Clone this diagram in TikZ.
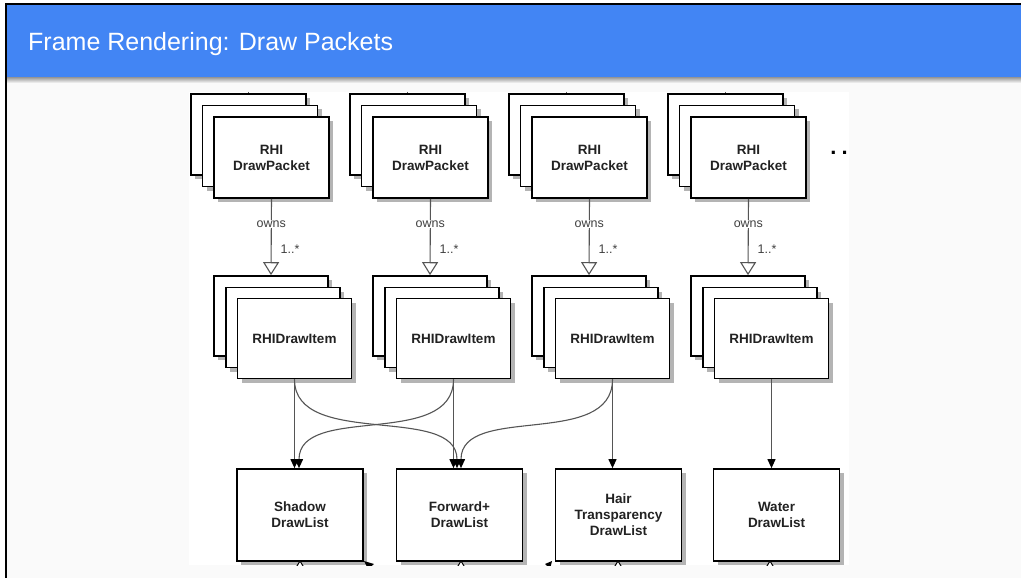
\documentclass[tikz,border=0pt]{standalone}
\usepackage{fontspec}
\setmainfont{Liberation Sans}
\usetikzlibrary{arrows.meta,calc}
\definecolor{hdrblue}{HTML}{4285F4}
\definecolor{slidebg}{HTML}{FAFAFA}
\definecolor{conn}{HTML}{555555}
\definecolor{txt}{HTML}{222222}
\definecolor{shadowc}{HTML}{B4B4B4}
\tikzset{
  stackbox/.style={draw=black,line width=1.7pt,fill=white,
    preaction={fill=shadowc,draw=none,transform canvas={xshift=4pt,yshift=-4pt}},
    minimum width=115pt,minimum height=81pt,inner sep=0pt,text=txt,align=center,
    font=\bfseries\fontsize{13.5}{16}\selectfont},
  itembox/.style={stackbox,minimum width=114pt,minimum height=80pt},
  listbox/.style={stackbox,minimum width=126pt,minimum height=92pt},
  own/.style={draw=conn,line width=1.1pt,-{Triangle[open,length=13pt,width=16pt,fill=white]}},
  flow/.style={draw=conn,line width=1.1pt,-{Triangle[length=9pt,width=8pt,color=black]}},
  lbl/.style={text=black!75,font=\fontsize{12.5}{14}\selectfont,inner sep=1pt},
}
\begin{document}
\begin{tikzpicture}[x=1pt,y=-1pt]
\useasboundingbox (0,0) rectangle (1021,578);
\fill[white] (0,0) rectangle (1021,578);
\fill[slidebg] (6,4) rectangle (1021,578);
\fill[hdrblue] (6,4) rectangle (1021,78);
\shade[top color=black!35,bottom color=slidebg] (6,78) rectangle (1021,83);
\draw[line width=2pt,black] (6,578) -- (6,4) -- (1021,4);
\node[anchor=base west,text=white,inner sep=0pt,font=\fontsize{25}{30}\selectfont] (title) at (28,51) {Frame Rendering: Draw Packets};

\fill[white] (189,92) rectangle (849,565);

\foreach \i in {1,2,3,4}{
  \pgfmathsetmacro\dx{159*(\i-1)}
  \coordinate (top\i) at ({248.5+\dx},92);
  \node[stackbox] (p\i c) at ({248.5+\dx},134.5) {};
  \node[stackbox] (p\i b) at ({260+\dx},146) {};
  \node[stackbox] (p\i a) at ({271.5+\dx},157.5) {RHI\\DrawPacket};
  \draw[conn,line width=1.1pt] (top\i) -- (p\i c.north);
  \node[itembox] (i\i c) at ({271+\dx},316) {};
  \node[itembox] (i\i b) at ({283+\dx},327.5) {};
  \node[itembox] (i\i a) at ({294.5+\dx},338.5) {RHIDrawItem};
  \draw[own] (p\i a.south) -- node[pos=0.33,lbl,fill=white] {owns}
     node[pos=0.655,lbl,anchor=west,xshift=8pt] {1..*} (i\i c.north);
}

\node[listbox] (l1) at (300,515) {Shadow\\DrawList};
\node[listbox] (l2) at (459.5,515) {Forward+\\DrawList};
\node[listbox] (l3) at (618.5,515) {Hair\\Transparency\\DrawList};
\node[listbox] (l4) at (776.5,515) {Water\\DrawList};

\node[font=\bfseries\fontsize{22}{22}\selectfont,text=black,inner sep=0pt] (more) at (839,153) {.\kern5pt.};

% connectors to draw lists
\coordinate (s2) at ($(l1.north)+(-1,0)$);
\coordinate (f1) at ($(l2.north)+(-2.5,0)$);
\coordinate (f3) at ($(l2.north)+(1.5,0)$);
\draw[flow] (i1a.south) -- (i1a.south |- l1.north);
\draw[flow] (i2a.south) -- (i2a.south |- l2.north);
\draw[flow] (i3a.south) -- (i3a.south |- l3.north);
\draw[flow] (i4a.south) -- (i4a.south |- l4.north);
\draw[flow] (i1a.south) .. controls ($(i1a.south)+(0,70)$) and ($(f1)+(0,-65)$) .. (f1);
\draw[flow] (i2a.south) .. controls ($(i2a.south)+(0,70)$) and ($(s2)+(0,-65)$) .. (s2);
\draw[flow] (i3a.south) .. controls ($(i3a.south)+(0,70)$) and ($(f3)+(0,-65)$) .. (f3);

% fragments of the next layer, cropped at the picture's lower edge
\begin{scope}
\clip (189,561) rectangle (849,565);
\foreach \x in {300,461,618,770}{
  \draw[black,line width=1pt,fill=white] (\x,561) -- ({\x-6},571) -- ({\x+6},571) -- cycle;
}
\fill[black] (364,561) -- (374,564) -- (368,569) -- cycle;
\fill[black] (552,561) -- (545,564) -- (550,569) -- cycle;
\end{scope}
\end{tikzpicture}
\end{document}
